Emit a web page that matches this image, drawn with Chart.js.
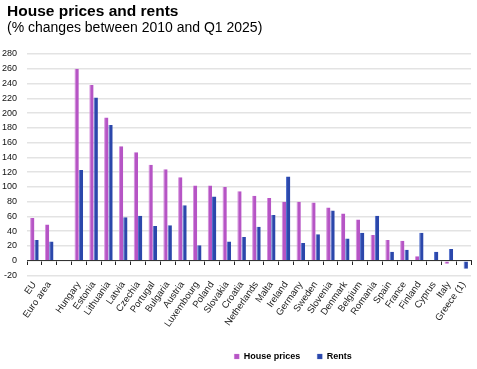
<!DOCTYPE html>
<html>
<head>
<meta charset="utf-8">
<title>House prices and rents</title>
<script src="https://cdn.jsdelivr.net/npm/chart.js@4.4.1/dist/chart.umd.min.js"></script>
<style>
  body { margin: 0; background: #fff; }
  canvas { display: block; }
</style>
</head>
<body>
<canvas id="myChart" width="477" height="369"></canvas>
<script>
const countries = [
  "EU", "Euro area", "", "Hungary", "Estonia", "Lithuania", "Latvia", "Czechia",
  "Portugal", "Bulgaria", "Austria", "Luxembourg", "Poland", "Slovakia", "Croatia",
  "Netherlands", "Malta", "Ireland", "Germany", "Sweden", "Slovenia", "Denmark",
  "Belgium", "Romania", "Spain", "France", "Finland", "Cyprus", "Italy", "Greece (1)"
];

const housePrices = [
  58, 49, null, 260, 238, 194, 155, 147, 130, 124, 113, 102, 102, 100, 94,
  88, 85, 80, 80, 79, 72, 64, 56, 35, 28, 27, 6, 0, -4, null
];

const rents = [
  28, 26, null, 123, 221, 184, 59, 61, 47, 48, 75, 21, 87, 26, 32,
  46, 62, 114, 24, 36, 68, 30, 38, 61, 12, 15, 38, 12, 16, -11
];

const yTicks = { min: -20, max: 280, step: 20 };

const fontFamily = "'Liberation Sans', Arial, sans-serif";

let chartElementContext = document.getElementById("myChart").getContext("2d");

// titles start a little in from the edge, legend sits right of centre
const nudgeBoxes = {
  id: "nudgeBoxes",
  afterLayout(chart) {
    chart.boxes.forEach((box) => {
      if (box.options && typeof box.options.text === "string") {
        box.left += 7;
      }
    });
    chart.legend.left += 55;
    chart.legend.right += 55;
  },
};

var myChart = new Chart(chartElementContext, {
  type: "bar",
  data: {
    labels: countries,
    datasets: [
      {
        label: "House prices",
        data: housePrices,
        backgroundColor: "#b655c5",
        borderColor: "#d58edd",
        borderWidth: { left: 1, right: 0, top: 0, bottom: 0 },
        categoryPercentage: 0.58,
        barPercentage: 1.0,
      },
      {
        label: "Rents",
        data: rents,
        backgroundColor: "#2b47ab",
        borderColor: "#4d6ccb",
        borderWidth: { left: 1, right: 0, top: 0, bottom: 0 },
        categoryPercentage: 0.58,
        barPercentage: 1.0,
      },
    ],
  },
  options: {
    responsive: false,
    animation: false,
    layout: { padding: { left: 0, right: 1, top: 0, bottom: -2 } },
    scales: {
      x: {
        grid: { display: false, drawTicks: false },
        border: { display: false },
        ticks: {
          autoSkip: false,
          maxRotation: 55,
          minRotation: 55,
          padding: 4,
          color: "#222",
          font: { family: fontFamily, size: 9.5 },
        },
        afterFit(axis) {
          axis.height = 59.5;
        },
      },
      x2: {
        type: "category",
        position: { y: 0 },
        offset: true,
        grid: {
          offset: true,
          drawOnChartArea: false,
          drawTicks: true,
          tickLength: 4,
          color: "#222",
        },
        border: { display: true, color: "#333", width: 1 },
        ticks: { display: false },
      },
      y: {
        min: yTicks.min,
        max: yTicks.max,
        ticks: {
          stepSize: yTicks.step,
          padding: 10,
          color: "#111",
          font: { family: fontFamily, size: 9 },
        },
        grid: { color: "#e3e3e3", lineWidth: 1.5, drawTicks: false },
        border: { display: false },
        afterFit(axis) {
          axis.width = 27;
        },
      },
    },
    plugins: {
      title: {
        display: true,
        text: "House prices and rents",
        align: "start",
        color: "#000",
        font: { family: fontFamily, size: 15.5, weight: "bold" },
        padding: { top: 2, bottom: 0 },
      },
      subtitle: {
        display: true,
        text: "(% changes between 2010 and Q1 2025)",
        align: "start",
        color: "#000",
        font: { family: fontFamily, size: 14 },
        padding: { top: -1, bottom: 17.6 },
      },
      legend: {
        position: "bottom",
        labels: {
          boxWidth: 5,
          boxHeight: 5,
          padding: 17,
          color: "#000",
          font: { family: fontFamily, size: 9, weight: "bold" },
        },
      },
      tooltip: { enabled: false },
    },
  },
  plugins: [nudgeBoxes],
});
</script>
</body>
</html>
